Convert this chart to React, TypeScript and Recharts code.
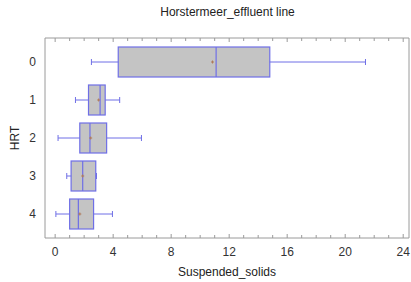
import {
  ComposedChart,
  Bar,
  XAxis,
  YAxis,
} from "recharts";

// HRT groups, top to bottom
const hrt = ["0", "1", "2", "3", "4"];
// box plot stats for Suspended_solids
const whiskerLow = [2.5, 1.4, 0.2, 0.8, 0.05];
const q1 = [4.35, 2.3, 1.7, 1.1, 1.0];
const median = [11.1, 3.1, 2.4, 1.9, 1.6];
const q3 = [14.8, 3.45, 3.55, 2.8, 2.65];
const whiskerHigh = [21.4, 4.45, 5.95, 2.85, 3.95];
const mean = [10.85, 3.0, 2.45, 1.9, 1.7];

const xTicks = Array.from({ length: 25 }, (_, i) => i);

const rows = hrt.map((h, i) => ({
  hrt: h,
  low: whiskerLow[i],
  q1: q1[i],
  med: median[i],
  q3: q3[i],
  high: whiskerHigh[i],
  mean: mean[i],
}));

const font = '"Liberation Sans", Arial, sans-serif';
const frame = "#9a9a9a";
const blue = "#6f6fe6";

/** whisker + box + median + mean, scaled inside the [low, high] bar rect */
function BoxShape(props: any) {
  const { x, y, width, height, payload } = props;
  const { low, high } = payload;
  const px = (v: number) => x + ((v - low) / (high - low)) * width;
  const cy = y + height / 2;
  const cap = 3;
  const m = px(payload.mean);
  return (
    <g>
      <line x1={px(low)} x2={px(high)} y1={cy} y2={cy} stroke={blue} strokeWidth={1} />
      <line x1={px(low)} x2={px(low)} y1={cy - cap} y2={cy + cap} stroke={blue} />
      <line x1={px(high)} x2={px(high)} y1={cy - cap} y2={cy + cap} stroke={blue} />
      <rect
        x={px(payload.q1)}
        y={y}
        width={px(payload.q3) - px(payload.q1)}
        height={height}
        fill="#c4c4c4"
        stroke={blue}
        strokeWidth={1.2}
      />
      <line x1={px(payload.med)} x2={px(payload.med)} y1={y} y2={y + height} stroke={blue} strokeWidth={1.2} />
      <line x1={m - 1.5} x2={m + 1.5} y1={cy} y2={cy} stroke="#b07a5a" />
      <line x1={m} x2={m} y1={cy - 1.5} y2={cy + 1.5} stroke="#b07a5a" />
    </g>
  );
}

// bottom ticks point up into the plot, labels every 4
function BottomTick(props: any) {
  const { x, y, payload } = props;
  const v = payload.value;
  const major = v % 4 === 0;
  const base = y - 8;
  return (
    <g>
      <line x1={x} x2={x} y1={base} y2={base - (major ? 4 : 3)} stroke={frame} />
      {major && (
        <text x={x} y={y + 10} textAnchor="middle" fontSize={12} fill="#333" fontFamily={font}>
          {v}
        </text>
      )}
    </g>
  );
}

// top ticks point down into the plot, no labels
function TopTick(props: any) {
  const { x, y, payload } = props;
  const major = payload.value % 4 === 0;
  return <line x1={x} x2={x} y1={y} y2={y + (major ? 4 : 3)} stroke={frame} />;
}

export default function App() {
  return (
    <div style={{ position: "absolute", left: 0, top: 0, width: 411, height: 282, background: "#fff" }}>
      <div
        style={{
          position: "absolute",
          left: 45,
          top: 5,
          width: 365,
          textAlign: "center",
          fontFamily: font,
          fontSize: 12,
          color: "#222",
        }}
      >
        Horstermeer_effluent line
      </div>
      <ComposedChart
        width={411}
        height={282}
        data={rows}
        layout="vertical"
        margin={{ top: 37, right: 0, left: 5, bottom: 0 }}
        barSize={30}
      >
        <XAxis
          type="number"
          domain={[-0.7, 24.4]}
          ticks={xTicks}
          interval={0}
          allowDataOverflow
          height={44}
          stroke={frame}
          tickLine={false}
          tickSize={0}
          tickMargin={8}
          tick={<BottomTick />}
          label={{
            value: "Suspended_solids",
            position: "insideBottom",
            offset: 6,
            style: { fontSize: 12, fill: "#222", fontFamily: font },
          }}
        />
        <XAxis
          xAxisId="top"
          orientation="top"
          type="number"
          domain={[-0.7, 24.4]}
          ticks={xTicks}
          interval={0}
          allowDataOverflow
          height={1}
          stroke={frame}
          tickLine={false}
          tickSize={0}
          tickMargin={0}
          tick={<TopTick />}
        />
        <YAxis
          type="category"
          dataKey="hrt"
          width={40}
          padding={{ top: 5, bottom: 5 }}
          stroke={frame}
          tickLine={false}
          tickSize={0}
          tickMargin={9}
          tick={{ fontSize: 12, fill: "#333", fontFamily: font }}
          label={{
            value: "HRT",
            angle: -90,
            position: "insideLeft",
            offset: 10,
            style: { fontSize: 12, fill: "#222", fontFamily: font, textAnchor: "middle" },
          }}
        />
        <YAxis
          yAxisId="right"
          orientation="right"
          type="category"
          dataKey="hrt"
          width={2}
          stroke={frame}
          tick={false}
          tickLine={false}
        />
        <Bar
          dataKey={(d: any) => [d.low, d.high]}
          shape={<BoxShape />}
          isAnimationActive={false}
        />
      </ComposedChart>
    </div>
  );
}
